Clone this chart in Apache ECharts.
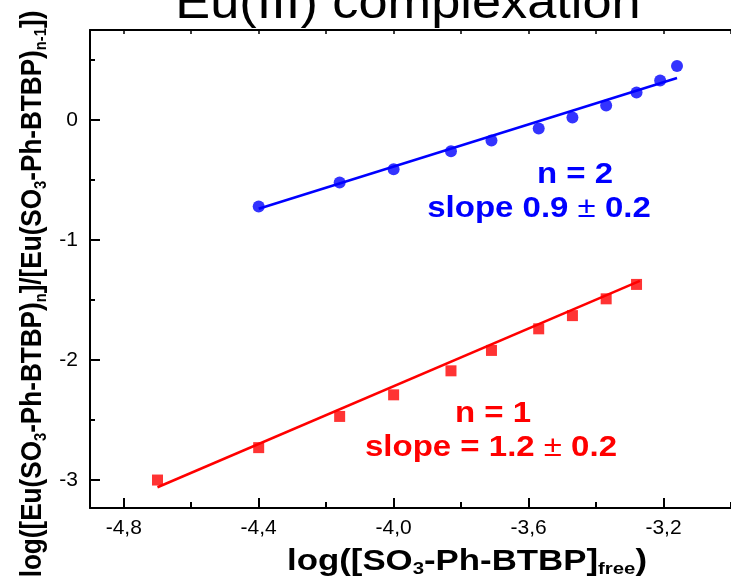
<!DOCTYPE html>
<html>
<head>
<meta charset="utf-8">
<script src="https://cdn.jsdelivr.net/npm/echarts@6/dist/echarts.min.js"></script>
<style>
html,body{margin:0;padding:0;background:#fff;}
#chart{width:731px;height:585px;}
</style>
</head>
<body>
<div id="chart"></div>
<script>
// ---- data ----
const xMajorTicks = [-4.8, -4.4, -4.0, -3.6, -3.2];
const xMinorTicks = [-4.6, -4.2, -3.8, -3.4, -3.0];
const xTopTicks = [-4.8, -4.6, -4.4, -4.2, -4.0, -3.8, -3.6, -3.4, -3.2, -3.0];
const yMajorTicks = [-3, -2, -1, 0];
const yMinorTicks = [-2.5, -1.5, -0.5, 0.5];

// n = 1 (red squares)
const n1X = [-4.70, -4.40, -4.16, -4.00, -3.83, -3.71, -3.57, -3.47, -3.37, -3.28];
const n1Y = [-3.00, -2.73, -2.47, -2.29, -2.09, -1.92, -1.74, -1.63, -1.49, -1.37];
// n = 2 (blue circles)
const n2X = [-4.40, -4.16, -4.00, -3.83, -3.71, -3.57, -3.47, -3.37, -3.28, -3.21, -3.16];
const n2Y = [-0.72, -0.52, -0.41, -0.26, -0.17, -0.07, 0.02, 0.12, 0.23, 0.33, 0.45];
// linear fits
const n1FitX = [-4.70, -3.27];
const n1FitY = [-3.06, -1.34];
const n2FitX = [-4.40, -3.16];
const n2FitY = [-0.74, 0.35];

const zip = (a, b) => a.map((v, i) => [v, b[i]]);

const chart = echarts.init(document.getElementById('chart'), null, {renderer: 'canvas'});
const X_MIN = -4.9, X_MAX = -3.0, Y_MIN = -3.233, Y_MAX = 0.75;
const FONT = 'Liberation Sans, Arial, sans-serif';
const lineBlack = {show: true, onZero: false, lineStyle: {color: '#000', width: 2}};
const noLine = {show: false, onZero: false};

function annot(x, y, text, color) {
  return {type: 'text', x: x, y: y, scaleX: 1.1, style: {
    text: text, align: 'center', verticalAlign: 'middle', fill: color,
    rich: {
      b: {fontSize: 30, fontWeight: 'bold', fontFamily: FONT, fill: color},
      r: {fontSize: 30, fontWeight: 'normal', fontFamily: FONT, fill: color}
    }}};
}

const option = {
  animation: false,
  backgroundColor: '#ffffff',
  grid: {left: 90, top: 30, right: -15, bottom: 77, containLabel: false},
  xAxis: [
    {
      type: 'value', position: 'bottom', min: X_MIN, max: X_MAX,
      axisLine: lineBlack,
      axisTick: {show: true, inside: true, length: 10, lineStyle: {color: '#000', width: 2}, customValues: xMajorTicks},
      axisLabel: {show: true, margin: 10, fontSize: 21, color: '#000', fontFamily: FONT,
        customValues: xMajorTicks, formatter: v => v.toFixed(1).replace('.', ',')},
      splitLine: {show: false}
    },
    {
      type: 'value', position: 'bottom', min: X_MIN, max: X_MAX,
      axisLine: noLine,
      axisTick: {show: true, inside: true, length: 6, lineStyle: {color: '#000', width: 2}, customValues: xMinorTicks},
      axisLabel: {show: false},
      splitLine: {show: false}
    },
    {
      type: 'value', position: 'top', min: X_MIN, max: X_MAX,
      axisLine: lineBlack,
      axisTick: {show: true, inside: true, length: 4, lineStyle: {color: '#000', width: 1.5}, customValues: xTopTicks},
      axisLabel: {show: false},
      splitLine: {show: false}
    }
  ],
  yAxis: [
    {
      type: 'value', position: 'left', min: Y_MIN, max: Y_MAX,
      axisLine: lineBlack,
      axisTick: {show: true, inside: true, length: 10, lineStyle: {color: '#000', width: 2}, customValues: yMajorTicks},
      axisLabel: {show: true, margin: 12, fontSize: 21, color: '#000', fontFamily: FONT,
        customValues: yMajorTicks, formatter: v => String(Math.round(v))},
      splitLine: {show: false}
    },
    {
      type: 'value', position: 'left', min: Y_MIN, max: Y_MAX,
      axisLine: noLine,
      axisTick: {show: true, inside: true, length: 5, lineStyle: {color: '#000', width: 2}, customValues: yMinorTicks},
      axisLabel: {show: false},
      splitLine: {show: false}
    }
  ],
  series: [
    {type: 'line', data: zip(n1FitX, n1FitY), showSymbol: false, symbol: 'none',
      lineStyle: {color: '#ff0000', width: 2.5}, z: 2},
    {type: 'line', data: zip(n2FitX, n2FitY), showSymbol: false, symbol: 'none',
      lineStyle: {color: '#0000ff', width: 2.5}, z: 2},
    {type: 'scatter', data: zip(n1X, n1Y), symbol: 'rect', symbolSize: 11,
      itemStyle: {color: '#ff0000'}, z: 3},
    {type: 'scatter', data: zip(n2X, n2Y), symbol: 'circle', symbolSize: 12,
      itemStyle: {color: '#0000ff'}, z: 3}
  ],
  graphic: [
    {type: 'text', x: 408, y: 29, scaleX: 1.09, style: {text: 'Eu(III) complexation', fontSize: 48, fontFamily: FONT,
      fill: '#000', align: 'center', verticalAlign: 'bottom'}},
    annot(575, 175, '{b|n = 2}', '#0000ff'),
    annot(539, 209, '{b|slope 0.9 }{r|\u00b1}{b| 0.2}', '#0000ff'),
    annot(493, 414, '{b|n = 1}', '#ff0000'),
    annot(491, 448, '{b|slope = 1.2 }{r|\u00b1}{b| 0.2}', '#ff0000'),
    {type: 'text', x: 467, y: 562, scaleX: 1.2, style: {
      text: '{b|log([SO}{s|3}{b|-Ph-BTBP]}{s|free}{b|)}',
      align: 'center', verticalAlign: 'middle', fill: '#000',
      rich: {
        b: {fontSize: 29, fontWeight: 'bold', fontFamily: FONT, fill: '#000', lineHeight: 32},
        s: {fontSize: 17, fontWeight: 'bold', fontFamily: FONT, fill: '#000', lineHeight: 32, verticalAlign: 'bottom'}
      }}},
    {type: 'text', x: 33, y: 294, rotation: Math.PI / 2, scaleX: 0.87, style: {
      text: '{b|log([Eu(SO}{s|3}{b|-Ph-BTBP)}{s|n}{b|]/[Eu(SO}{s|3}{b|-Ph-BTBP)}{s|n-1}{b|])}',
      align: 'center', verticalAlign: 'middle', fill: '#000',
      rich: {
        b: {fontSize: 30, fontWeight: 'bold', fontFamily: FONT, fill: '#000', lineHeight: 34},
        s: {fontSize: 17, fontWeight: 'bold', fontFamily: FONT, fill: '#000', lineHeight: 34, verticalAlign: 'bottom'}
      }}}
  ]
};
chart.setOption(option);
</script>
</body>
</html>
